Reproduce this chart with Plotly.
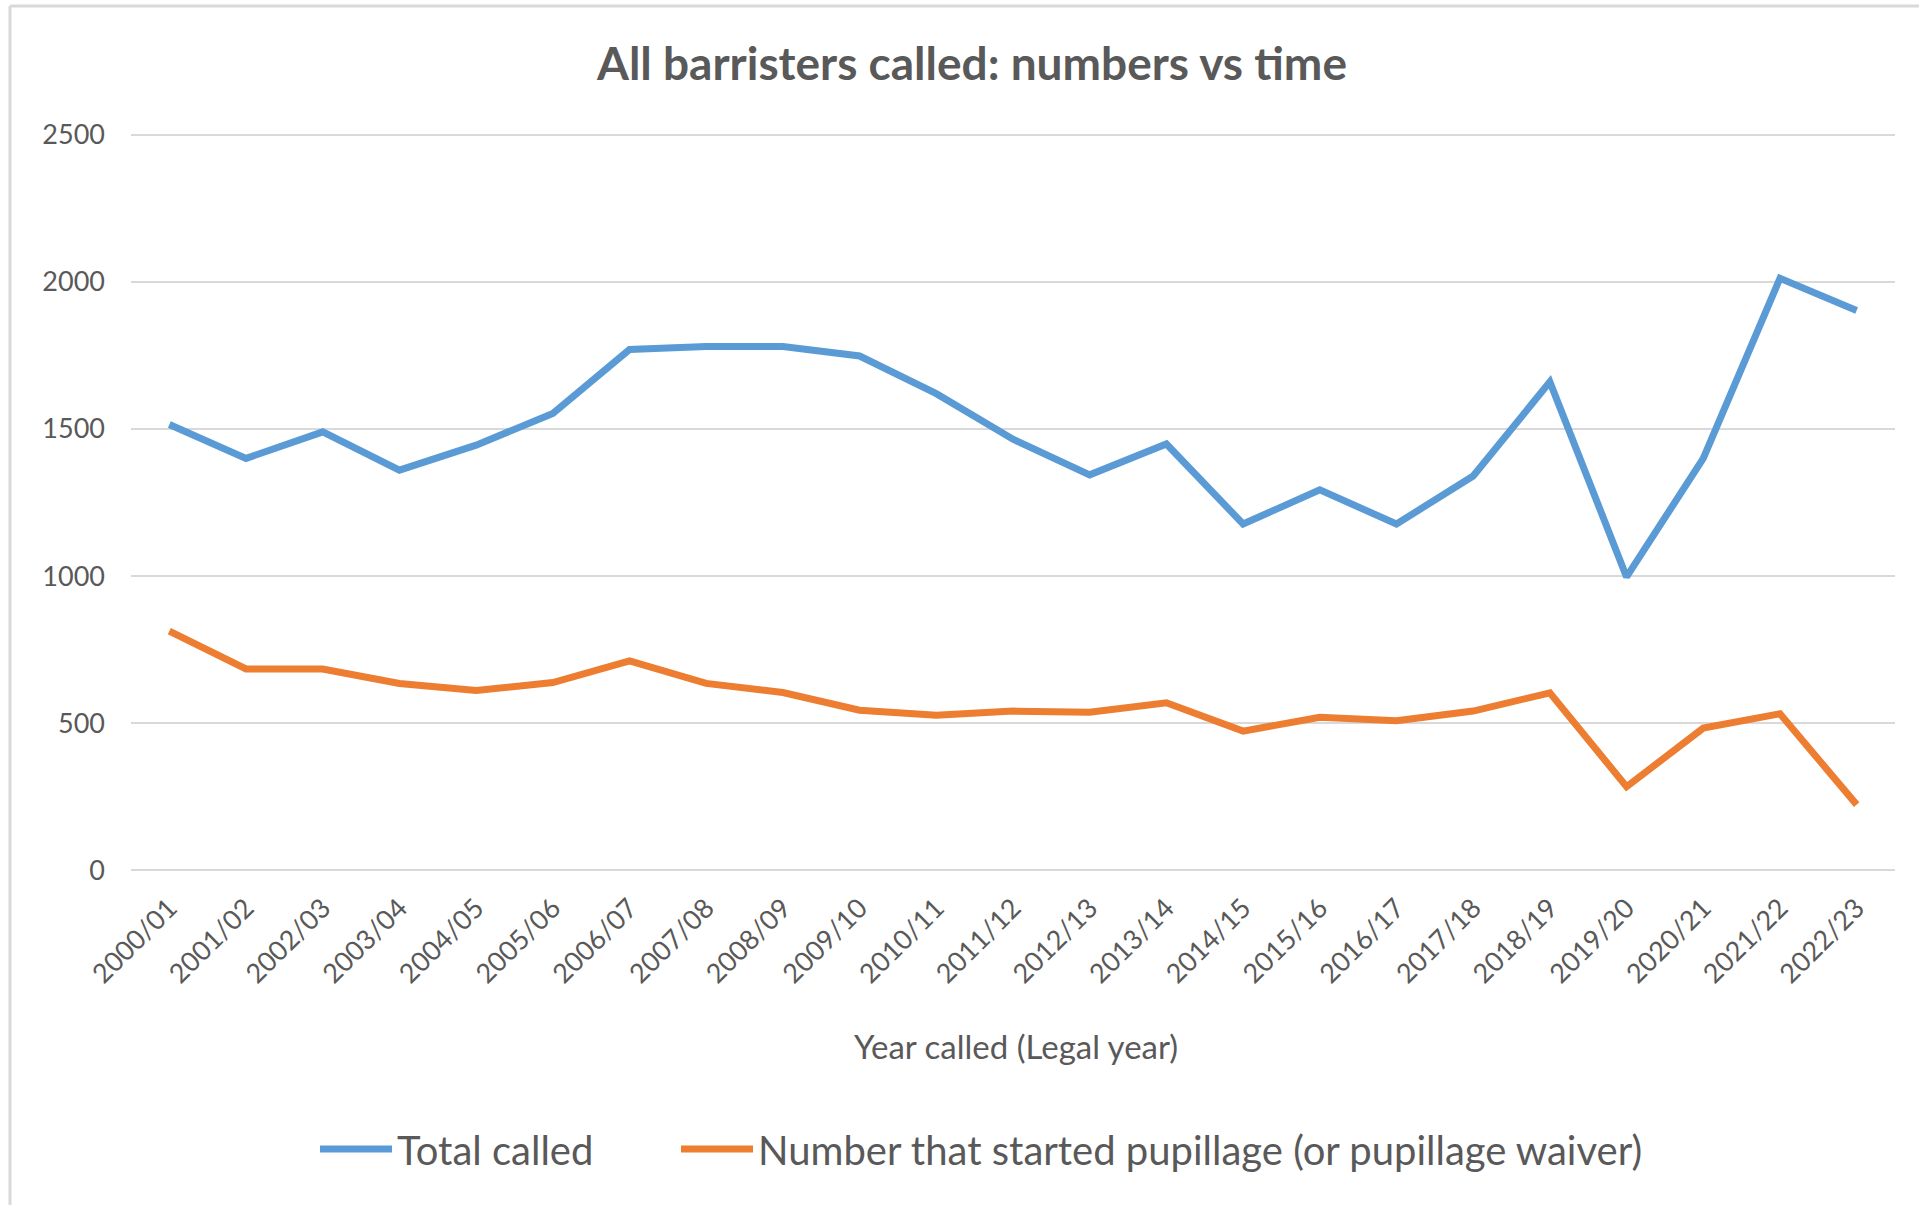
import plotly.graph_objects as go

years = ["2000/01", "2001/02", "2002/03", "2003/04", "2004/05", "2005/06", "2006/07",
         "2007/08", "2008/09", "2009/10", "2010/11", "2011/12", "2012/13", "2013/14",
         "2014/15", "2015/16", "2016/17", "2017/18", "2018/19", "2019/20", "2020/21",
         "2021/22", "2022/23"]
total_called = [1515, 1400, 1490, 1360, 1445, 1553, 1770, 1780, 1780, 1748, 1620, 1465,
                1344, 1449, 1177, 1293, 1177, 1340, 1660, 997, 1400, 2012, 1903]
pupillage = [813, 684, 684, 635, 611, 638, 712, 635, 604, 544, 527, 541,
             537, 569, 473, 520, 508, 541, 603, 284, 483, 532, 223]

FONT = "Lato"
GREY = "#595959"

# plot area in pixels
L, R, T, B = 131, 1895, 133, 872
W, H = 1919, 1205
pw, ph = R - L, B - T

def px(x):
    return (x - L) / pw

def py(y):
    return (B - y) / ph

fig = go.Figure()
fig.add_trace(go.Scatter(x=years, y=total_called, mode="lines", name="Total called",
                         line=dict(color="#5B9BD5", width=7), legend="legend"))
fig.add_trace(go.Scatter(x=years, y=pupillage, mode="lines",
                         name="Number that started pupillage (or pupillage waiver)",
                         line=dict(color="#ED7D31", width=7), legend="legend2"))

leg_common = dict(orientation="h", xanchor="left", y=py(1149), yanchor="middle",
                  font=dict(family=FONT, size=40, color=GREY), itemwidth=72,
                  bgcolor="rgba(0,0,0,0)")

fig.update_layout(
    width=W, height=H,
    margin=dict(l=L, r=W - R, t=T, b=H - B),
    paper_bgcolor="white", plot_bgcolor="white",
    font=dict(family=FONT, color=GREY),
    title=dict(text="All barristers called: numbers vs time", x=972 / W, xanchor="center",
               y=1 - 64 / H, yanchor="middle",
               font=dict(family=FONT, size=46, color=GREY, weight="bold")),
    xaxis=dict(type="category", range=[-0.5, len(years) - 0.5], showgrid=False,
               showline=False, zeroline=False, tickangle=-45, ticks="",
               tickfont=dict(family=FONT, size=27, color=GREY), ticklabelstandoff=14),
    yaxis=dict(range=[-6, 2506], tickvals=[0, 500, 1000, 1500, 2000, 2500],
               showgrid=True, gridcolor="#d9d9d9", gridwidth=2,
               zeroline=False, showline=False, ticks="",
               tickfont=dict(family=FONT, size=27, color=GREY), ticklabelstandoff=25),
    showlegend=True,
    legend=dict(x=px(322 - 7), **leg_common),
    legend2=dict(x=px(682 - 6), **leg_common),
    annotations=[dict(text="Year called (Legal year)", xref="paper", yref="paper",
                      x=px(1016), y=py(1046), xanchor="center", yanchor="middle",
                      showarrow=False, font=dict(family=FONT, size=33, color=GREY))],
    shapes=[
        dict(type="line", xref="paper", yref="paper", x0=px(10), x1=px(W), y0=py(6), y1=py(6),
             line=dict(color="#d9d9d9", width=3)),
        dict(type="line", xref="paper", yref="paper", x0=px(10), x1=px(10), y0=py(6), y1=py(H),
             line=dict(color="#d9d9d9", width=3)),
    ],
)

fig.write_html("out.html", config={"displayModeBar": False},
               post_script="document.body.style.margin='0';")
